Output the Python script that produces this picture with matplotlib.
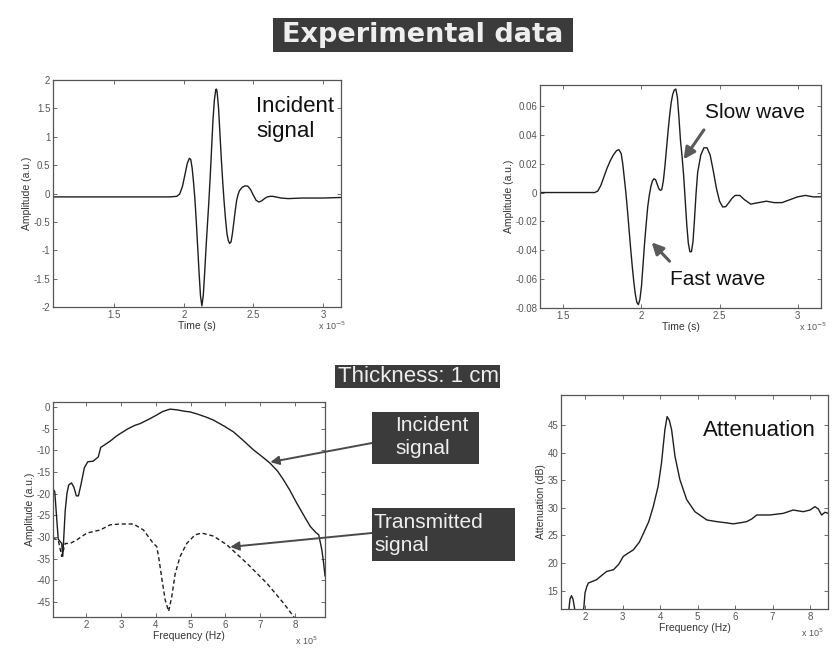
import matplotlib
matplotlib.use("Agg")
import matplotlib.pyplot as plt
from matplotlib.patches import Rectangle

plt.rcParams['font.family'] = ['Liberation Sans', 'DejaVu Sans']

# ---------------- data ----------------
# Incident pulse (time in 1e-5 s, amplitude a.u.)
t_inc = [1.06, 1.90, 1.95, 1.97, 1.99, 2.01, 2.025, 2.04, 2.05, 2.06, 2.07, 2.08,
         2.09, 2.10, 2.11, 2.12, 2.13, 2.14, 2.15, 2.16, 2.17, 2.18, 2.19, 2.20,
         2.21, 2.22, 2.23, 2.235, 2.24, 2.25, 2.26, 2.27, 2.28, 2.29, 2.30, 2.31,
         2.32, 2.33, 2.34, 2.35, 2.36, 2.37, 2.38, 2.39, 2.40, 2.42, 2.44, 2.46,
         2.48, 2.50, 2.52, 2.54, 2.56, 2.58, 2.60, 2.62, 2.64, 2.66, 2.70, 2.75,
         2.85, 3.00, 3.13]
a_inc = [-0.06, -0.06, -0.05, -0.01, 0.12, 0.35, 0.53, 0.62, 0.60, 0.45, 0.20, -0.10,
         -0.50, -0.95, -1.40, -1.80, -1.98, -1.80, -1.40, -0.95, -0.55, -0.15, 0.30, 0.80,
         1.30, 1.65, 1.83, 1.84, 1.78, 1.50, 1.05, 0.60, 0.20, -0.15, -0.45, -0.70,
         -0.83, -0.88, -0.85, -0.70, -0.50, -0.30, -0.12, -0.02, 0.05, 0.11, 0.135, 0.13,
         0.07, -0.03, -0.12, -0.15, -0.13, -0.09, -0.06, -0.05, -0.05, -0.06, -0.08, -0.09,
         -0.08, -0.08, -0.07]

# Transmitted pulse (time in 1e-5 s, amplitude a.u.)
t_tr = [1.35, 1.70, 1.72, 1.74, 1.76, 1.78, 1.80, 1.82, 1.84, 1.855, 1.87, 1.88,
        1.89, 1.90, 1.91, 1.92, 1.93, 1.94, 1.95, 1.96, 1.97, 1.98, 1.99, 2.00,
        2.01, 2.02, 2.03, 2.04, 2.05, 2.06, 2.07, 2.08, 2.09, 2.10, 2.11, 2.12,
        2.13, 2.14, 2.15, 2.16, 2.17, 2.18, 2.19, 2.20, 2.21, 2.22, 2.23, 2.24,
        2.25, 2.26, 2.27, 2.28, 2.29, 2.30, 2.31, 2.32, 2.33, 2.34, 2.35, 2.36,
        2.38, 2.40, 2.42, 2.44, 2.46, 2.48, 2.50, 2.52, 2.54, 2.56, 2.58, 2.60,
        2.63, 2.66, 2.70, 2.75, 2.80, 2.85, 2.90, 2.95, 3.00, 3.05, 3.10, 3.15]
a_tr = [0.0, 0.0, 0.001, 0.005, 0.011, 0.017, 0.022, 0.026, 0.029, 0.0297, 0.027, 0.020,
        0.010, 0.0, -0.012, -0.025, -0.038, -0.050, -0.061, -0.070, -0.076, -0.0777, -0.074, -0.065,
        -0.050, -0.035, -0.022, -0.010, -0.002, 0.004, 0.008, 0.0095, 0.009, 0.006, 0.003, 0.0015,
        0.002, 0.008, 0.018, 0.030, 0.042, 0.053, 0.062, 0.068, 0.071, 0.0717, 0.066, 0.052,
        0.036, 0.025, 0.012, -0.005, -0.022, -0.035, -0.041, -0.041, -0.034, -0.018, 0.0, 0.014,
        0.026, 0.031, 0.031, 0.026, 0.015, 0.003, -0.006, -0.010, -0.0098, -0.007, -0.004, -0.002,
        -0.002, -0.005, -0.008, -0.007, -0.006, -0.007, -0.007, -0.005, -0.003, -0.002, -0.003, -0.003]

# Spectra (frequency in 1e5 Hz, amplitude dB)
f_inc = [1.06, 1.10, 1.15, 1.20, 1.25, 1.30, 1.33, 1.36, 1.40, 1.45, 1.50, 1.58,
         1.65, 1.72, 1.78, 1.85, 1.95, 2.05, 2.20, 2.35, 2.42, 2.55, 2.70, 2.85,
         2.98, 3.20, 3.40, 3.55, 3.80, 4.03, 4.20, 4.41, 4.60, 4.80, 4.99, 5.20,
         5.45, 5.66, 5.95, 6.23, 6.50, 6.81, 7.05, 7.29, 7.50, 7.67, 7.85, 8.05,
         8.25, 8.44, 8.60, 8.68, 8.77, 8.82, 8.86]
s_inc = [-19.0, -19.5, -25.0, -30.5, -31.0, -31.5, -34.5, -30.0, -24.0, -20.0, -18.0, -17.5,
         -18.5, -20.5, -20.5, -18.0, -14.0, -12.6, -12.5, -11.5, -9.3, -8.6, -7.8, -6.8,
         -6.1, -5.0, -4.2, -3.8, -2.8, -1.8, -1.0, -0.45, -0.6, -0.9, -1.1, -1.6,
         -2.3, -3.0, -4.3, -5.7, -7.6, -9.9, -11.4, -13.0, -14.8, -16.8, -19.2, -22.2,
         -25.0, -27.6, -29.0, -29.5, -33.0, -36.0, -39.0]

f_trs = [1.04, 1.20, 1.25, 1.30, 1.35, 1.40, 1.54, 1.73, 2.02, 2.40, 2.69, 2.98,
         3.36, 3.65, 3.93, 4.03, 4.10, 4.18, 4.27, 4.37, 4.46, 4.56, 4.70, 4.89,
         5.13, 5.32, 5.66, 6.04, 6.62, 7.19, 7.67, 7.96, 8.05]
s_trs = [-30.3, -30.7, -32.5, -34.5, -33.0, -31.5, -31.5, -30.7, -29.1, -28.4, -27.2, -27.0,
         -27.0, -28.4, -31.5, -32.2, -35.5, -39.9, -44.5, -47.2, -43.8, -38.4, -34.5, -31.5,
         -29.5, -29.1, -29.8, -31.8, -36.1, -40.7, -45.3, -48.4, -49.5]

# Attenuation (frequency in 1e5 Hz, dB)
f_att = [1.56, 1.60, 1.64, 1.68, 1.73, 1.78, 1.93, 1.97, 2.00, 2.05, 2.09, 2.20,
         2.31, 2.45, 2.58, 2.76, 2.90, 3.02, 3.15, 3.29, 3.45, 3.56, 3.70, 3.82,
         3.95, 4.04, 4.13, 4.19, 4.25, 4.31, 4.40, 4.53, 4.71, 4.93, 5.25, 5.51,
         5.75, 5.95, 6.15, 6.31, 6.45, 6.58, 6.93, 7.29, 7.55, 7.82, 8.00, 8.13,
         8.22, 8.31, 8.40, 8.48]
att = [11.0, 13.5, 14.1, 13.5, 11.5, 10.5, 10.5, 12.0, 14.6, 15.8, 16.4, 16.7,
       17.0, 17.8, 18.5, 18.8, 19.8, 21.2, 21.8, 22.4, 23.8, 25.4, 27.5, 30.2,
       33.9, 38.1, 44.1, 46.5, 45.8, 44.1, 39.3, 35.1, 31.5, 29.3, 27.8, 27.5,
       27.3, 27.1, 27.3, 27.5, 28.0, 28.7, 28.7, 29.0, 29.6, 29.3, 29.6, 30.2,
       29.8, 28.7, 29.2, 29.0]

# tick positions
time_ticks = [1.5, 2, 2.5, 3]
inc_yticks = [-2, -1.5, -1, -0.5, 0, 0.5, 1, 1.5, 2]
tr_yticks = [-0.08, -0.06, -0.04, -0.02, 0, 0.02, 0.04, 0.06]
freq_ticks = [2, 3, 4, 5, 6, 7, 8]
spec_yticks = [0, -5, -10, -15, -20, -25, -30, -35, -40, -45]
att_yticks = [15, 20, 25, 30, 35, 40, 45]

# ---------------- figure ----------------
W, H = 833, 653
fig = plt.figure(figsize=(W / 100, H / 100), dpi=100)
fig.patch.set_facecolor('white')


def fx(x):
    return x / W


def fy(y):
    return 1 - y / H


def box(l, t, r, b):
    return [fx(l), fy(b), (r - l) / W, (b - t) / H]


LINE = '#1e1e1e'
DARK = '#3b3b3b'


def style(ax):
    ax.tick_params(direction='in', top=True, right=True, length=3, width=0.6,
                   labelsize=7, colors='#555555', pad=2)
    for s in ax.spines.values():
        s.set_linewidth(0.9)
        s.set_color('#555555')


def num(v):
    return ('%g' % v)


# --- incident pulse ---
ax1 = fig.add_axes(box(53, 80, 341, 307))
ax1.plot(t_inc, a_inc, color=LINE, lw=1.0)
ax1.set_xlim(1.06, 3.13)
ax1.set_ylim(-2, 2)
ax1.set_xticks(time_ticks)
ax1.set_xticklabels([num(v) for v in time_ticks])
ax1.set_yticks(inc_yticks)
ax1.set_yticklabels([num(v) for v in inc_yticks])
style(ax1)
ax1.set_xlabel('Time (s)', fontsize=7.5, color='#333333', labelpad=1)
ax1.set_ylabel('Amplitude (a.u.)', fontsize=7.5, color='#333333', labelpad=1)
ax1.text(0.97, -0.085, r'x 10$^{-5}$', transform=ax1.transAxes, fontsize=6.5,
         color='#555555', ha='center', va='center')
ax1.text(fx(256), fy(119), 'Incident\nsignal', transform=fig.transFigure, fontsize=16,
         color='#111111', ha='left', va='center', linespacing=1.3,
         bbox=dict(facecolor='white', edgecolor='none', pad=1))

# --- transmitted pulse ---
ax2 = fig.add_axes(box(540, 85, 821, 308))
ax2.plot(t_tr, a_tr, color=LINE, lw=1.0)
ax2.set_xlim(1.35, 3.15)
ax2.set_ylim(-0.08, 0.0745)
ax2.set_xticks(time_ticks)
ax2.set_xticklabels([num(v) for v in time_ticks])
ax2.set_yticks(tr_yticks)
ax2.set_yticklabels([num(v) for v in tr_yticks])
style(ax2)
ax2.set_xlabel('Time (s)', fontsize=7.5, color='#333333', labelpad=1)
ax2.set_ylabel('Amplitude (a.u.)', fontsize=7.5, color='#333333', labelpad=1)
ax2.text(0.97, -0.085, r'x 10$^{-5}$', transform=ax2.transAxes, fontsize=6.5,
         color='#555555', ha='center', va='center')
ax2.text(fx(705), fy(113), 'Slow wave', transform=fig.transFigure, fontsize=15,
         color='#111111', ha='left', va='center',
         bbox=dict(facecolor='white', edgecolor='none', pad=1))
ax2.text(fx(670), fy(280), 'Fast wave', transform=fig.transFigure, fontsize=15,
         color='#111111', ha='left', va='center',
         bbox=dict(facecolor='white', edgecolor='none', pad=1))
arrow_big = dict(arrowstyle='-|>', lw=2.2, color='#5a5a5a', mutation_scale=17,
                 shrinkA=0, shrinkB=0)
ax2.annotate('', xy=(2.27, 0.023), xytext=(2.40, 0.0434), arrowprops=arrow_big)
ax2.annotate('', xy=(2.065, -0.0345), xytext=(2.18, -0.0476), arrowprops=arrow_big)

# --- spectra ---
ax3 = fig.add_axes(box(53, 402, 325, 617))
ax3.plot(f_inc, s_inc, color=LINE, lw=1.0)
ax3.plot(f_trs, s_trs, color=LINE, lw=1.0, ls=(0, (3, 2)))
ax3.set_xlim(1.05, 8.86)
ax3.set_ylim(-48.5, 1.2)
ax3.set_xticks(freq_ticks)
ax3.set_xticklabels([num(v) for v in freq_ticks])
ax3.set_yticks(spec_yticks)
ax3.set_yticklabels([num(v) for v in spec_yticks])
style(ax3)
ax3.set_xlabel('Frequency (Hz)', fontsize=7.5, color='#333333', labelpad=1)
ax3.set_ylabel('Amplitude (a.u.)', fontsize=7.5, color='#333333', labelpad=1)
ax3.text(0.93, -0.11, r'x 10$^{5}$', transform=ax3.transAxes, fontsize=6.5,
         color='#555555', ha='center', va='center')

# --- attenuation ---
ax4 = fig.add_axes(box(561, 395, 828, 609))
ax4.plot(f_att, att, color=LINE, lw=1.0)
ax4.set_xlim(1.36, 8.48)
ax4.set_ylim(11.7, 50.4)
ax4.set_xticks(freq_ticks)
ax4.set_xticklabels([num(v) for v in freq_ticks])
ax4.set_yticks(att_yticks)
ax4.set_yticklabels([num(v) for v in att_yticks])
style(ax4)
ax4.set_xlabel('Frequency (Hz)', fontsize=7.5, color='#333333', labelpad=1)
ax4.set_ylabel('Attenuation (dB)', fontsize=7.5, color='#333333', labelpad=1)
ax4.text(0.94, -0.11, r'x 10$^{5}$', transform=ax4.transAxes, fontsize=6.5,
         color='#555555', ha='center', va='center')
ax4.text(fx(703), fy(431), 'Attenuation', transform=fig.transFigure, fontsize=16,
         color='#111111', ha='left', va='center')

# --- headings and labelled boxes ---
fig.patches.append(Rectangle((fx(273), fy(52)), 300 / W, 34 / H,
                             transform=fig.transFigure, facecolor=DARK,
                             edgecolor='none'))
fig.text(fx(423), fy(35), 'Experimental data', fontsize=19.5, fontweight='bold',
         family='DejaVu Sans', color='#eeeeee', ha='center', va='center')

fig.patches.append(Rectangle((fx(335), fy(388)), 165 / W, 23 / H,
                             transform=fig.transFigure, facecolor=DARK,
                             edgecolor='none'))
fig.text(fx(418), fy(376.5), 'Thickness: 1 cm', fontsize=16, color='#eeeeee',
         ha='center', va='center')

fig.patches.append(Rectangle((fx(372), fy(464)), 107 / W, 52 / H,
                             transform=fig.transFigure, facecolor=DARK,
                             edgecolor='none'))
fig.text(fx(395), fy(437), 'Incident\nsignal', fontsize=15, color='#eeeeee',
         ha='left', va='center', linespacing=1.3)

fig.patches.append(Rectangle((fx(372), fy(561)), 143 / W, 53 / H,
                             transform=fig.transFigure, facecolor=DARK,
                             edgecolor='none'))
fig.text(fx(374), fy(534), 'Transmitted\nsignal', fontsize=15, color='#eeeeee',
         ha='left', va='center', linespacing=1.3)

arrow_thin = dict(arrowstyle='-|>', lw=1.4, color='#4a4a4a', mutation_scale=13,
                  shrinkA=0, shrinkB=0)
ax3.annotate('', xy=(7.29, -12.7), xytext=(fx(372), fy(443)),
             textcoords='figure fraction', arrowprops=arrow_thin,
             annotation_clip=False)
ax3.annotate('', xy=(6.14, -32.3), xytext=(fx(372), fy(533)),
             textcoords='figure fraction', arrowprops=arrow_thin,
             annotation_clip=False)

fig.savefig('out.png', dpi=100, facecolor='white')
